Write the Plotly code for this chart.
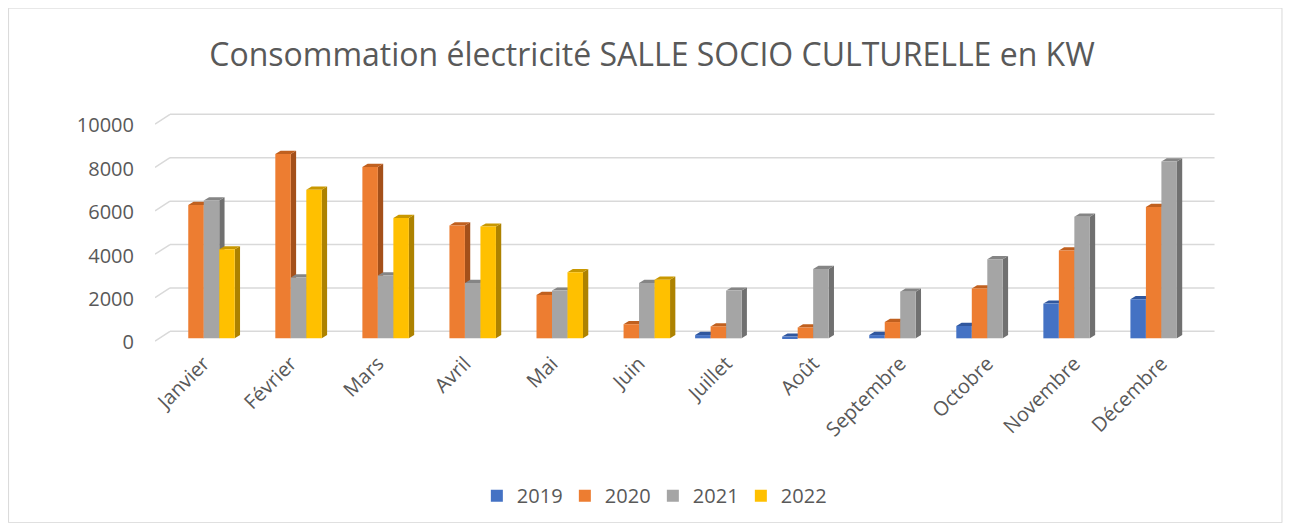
import plotly.graph_objects as go

# ---------------- data ----------------
months = ["Janvier", "Février", "Mars", "Avril", "Mai", "Juin", "Juillet",
          "Août", "Septembre", "Octobre", "Novembre", "Décembre"]
years = ["2019", "2020", "2021", "2022"]
v2019 = [None, None, None, None, None, None, 150, 80, 150, 570, 1600, 1800]
v2020 = [6150, 8500, 7900, 5200, 2000, 650, 550, 500, 750, 2300, 4050, 6050]
v2021 = [6350, 2800, 2900, 2550, 2200, 2550, 2200, 3200, 2150, 3650, 5600, 8150]
v2022 = [4100, 6850, 5550, 5150, 3050, 2700, None, None, None, None, None, None]
y_ticks = [0, 2000, 4000, 6000, 8000, 10000]
y_ticktext = ["0", "2000", "4000", "6000", "8000", "10000"]
title_text = "Consommation électricité SALLE SOCIO CULTURELLE en KW"

series = [v2019, v2020, v2021, v2022]
front_colors = ["#4472C4", "#ED7D31", "#A5A5A5", "#FFC000"]
top_colors = ["#30579E", "#C0601F", "#858585", "#C99800"]
side_colors = ["#2C4F8E", "#A4501A", "#707070", "#AD8200"]

# ---------------- geometry ----------------
OFF = 8                      # page body margin
W, H = 1291 - 2 * OFF, 531 - 2 * OFF
KX = 87.1                    # px per category
KY = 0.02165                 # px per unit
x_range = [-0.56, 11.65]
y_range = [-400, 10800]
base_px = 338.0 - OFF
plot_w = (x_range[1] - x_range[0]) * KX
plot_h = (y_range[1] - y_range[0]) * KY
m_l = 155 - OFF
m_r = W - m_l - plot_w
m_t = base_px - y_range[1] * KY
m_b = H - m_t - plot_h

bw = 0.178                   # bar width (category units)
start = -2 * bw              # left edge of first bar in cluster
dx = 5.3 / KX                # 3D depth
dy = 3.2 / KY
gx = 15 / KX                 # back-wall offset
gy_back = 7 / KY
gy_front = -2.7 / KY
label_shift = 4 / KY         # tick labels sit slightly below the bar plane

fig = go.Figure()
shapes = []

# back gridlines + diagonal connectors
for t in y_ticks:
    shapes.append(dict(type="line", xref="x", yref="y", layer="below",
                       x0=x_range[0] + gx, x1=x_range[1] - 0.04,
                       y0=t + gy_back, y1=t + gy_back,
                       line=dict(color="#D9D9D9", width=1.5)))
    shapes.append(dict(type="line", xref="x", yref="y", layer="below",
                       x0=x_range[0], x1=x_range[0] + gx,
                       y0=t + gy_front, y1=t + gy_back,
                       line=dict(color="#D9D9D9", width=1.5)))

for j, (yr, vals) in enumerate(zip(years, series)):
    off = start + j * bw
    fig.add_trace(go.Bar(
        name=yr, x=list(range(len(months))), y=vals,
        width=bw, offset=off, marker=dict(color=front_colors[j], line=dict(width=0)),
        hovertemplate="%{y}<extra>" + yr + "</extra>"))
    for i, v in enumerate(vals):
        if v is None:
            continue
        xl = i + off
        xr = xl + bw
        side = f"M {xr},0 L {xr},{v} L {xr+dx},{v+dy} L {xr+dx},{dy} Z"
        top = f"M {xl},{v} L {xr},{v} L {xr+dx},{v+dy} L {xl+dx},{v+dy} Z"
        shapes.append(dict(type="path", path=side, xref="x", yref="y", layer="below",
                           fillcolor=side_colors[j], line=dict(width=0)))
        shapes.append(dict(type="path", path=top, xref="x", yref="y", layer="below",
                           fillcolor=top_colors[j], line=dict(width=0)))

# invisible carrier so the label axis is drawn
fig.add_trace(go.Scatter(x=[None], y=[None], yaxis="y2", showlegend=False,
                         hoverinfo="skip", mode="markers"))


def px2x(p):
    return (p - OFF - m_l) / plot_w


def py2y(p):
    return (m_t + plot_h - (p - OFF)) / plot_h


# chart border
shapes.append(dict(type="rect", xref="paper", yref="paper", layer="below",
                   x0=px2x(8.5), x1=px2x(1282.5), y0=py2y(522), y1=py2y(8.5),
                   line=dict(color="#D9D9D9", width=1), fillcolor="rgba(0,0,0,0)"))

font_fam = "Open Sans, Noto Sans, sans-serif"
fig.update_layout(
    width=W, height=H,
    margin=dict(l=m_l, r=m_r, t=m_t, b=m_b, autoexpand=False),
    paper_bgcolor="white", plot_bgcolor="rgba(0,0,0,0)",
    barmode="overlay",
    font=dict(family=font_fam, color="#595959", size=20),
    title=dict(text=title_text, x=(652 - OFF) / W, xanchor="center",
               y=1 - (55 - OFF) / H, yanchor="middle", yref="container",
               font=dict(size=32, color="#595959", family=font_fam)),
    shapes=shapes,
    showlegend=True,
    legend=dict(orientation="h", x=px2x(477), xanchor="left", y=py2y(495), yanchor="middle",
                entrywidth=43, entrywidthmode="pixels",
                font=dict(size=20, color="#595959"), traceorder="normal"),
    xaxis=dict(range=x_range, tickmode="array", tickvals=list(range(len(months))),
               ticktext=months, tickangle=-45, showgrid=False, zeroline=False,
               showline=False, ticks="", fixedrange=True,
               tickfont=dict(size=20, color="#595959")),
    yaxis=dict(range=y_range, showgrid=False, zeroline=False, showline=False,
               showticklabels=False, ticks="", fixedrange=True),
    yaxis2=dict(range=[y_range[0] + label_shift, y_range[1] + label_shift],
                overlaying="y", side="left", anchor="x",
                tickmode="array", tickvals=y_ticks, ticktext=y_ticktext,
                showgrid=False, zeroline=False, showline=False,
                ticks="outside", ticklen=16, tickcolor="rgba(0,0,0,0)",
                fixedrange=True, tickfont=dict(size=20, color="#595959")),
)

fig.write_html("out.html")
